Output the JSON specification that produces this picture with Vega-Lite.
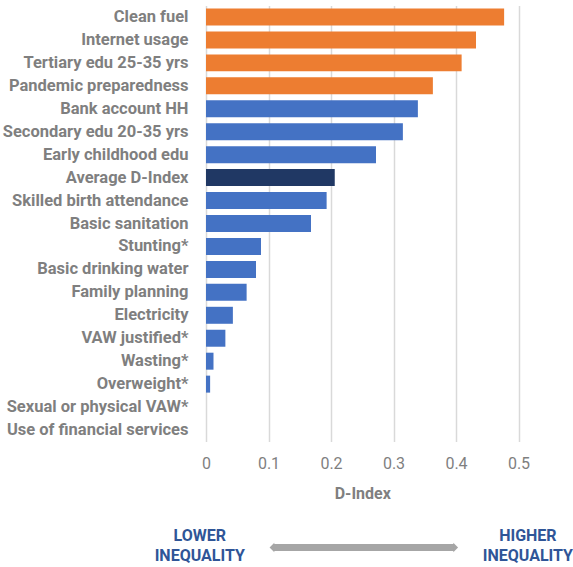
{
  "$schema": "https://vega.github.io/schema/vega-lite/v6.json",
  "autosize": {"type": "none"},
  "width": 312.5,
  "height": 436,
  "padding": {"left": 206, "top": 5.5, "right": 54.5, "bottom": 125.5},
  "background": "white",
  "config": {
    "view": {"stroke": null},
    "font": "Roboto"
  },
  "datasets": {
    "bars": [
      {"indicator": "Clean fuel", "d": 0.477, "group": "high"},
      {"indicator": "Internet usage", "d": 0.432, "group": "high"},
      {"indicator": "Tertiary edu 25-35 yrs", "d": 0.409, "group": "high"},
      {"indicator": "Pandemic preparedness", "d": 0.363, "group": "high"},
      {"indicator": "Bank account HH", "d": 0.339, "group": "other"},
      {"indicator": "Secondary edu 20-35 yrs", "d": 0.315, "group": "other"},
      {"indicator": "Early childhood edu", "d": 0.272, "group": "other"},
      {"indicator": "Average D-Index", "d": 0.206, "group": "average"},
      {"indicator": "Skilled birth attendance", "d": 0.193, "group": "other"},
      {"indicator": "Basic sanitation", "d": 0.168, "group": "other"},
      {"indicator": "Stunting*", "d": 0.088, "group": "other"},
      {"indicator": "Basic drinking water", "d": 0.080, "group": "other"},
      {"indicator": "Family planning", "d": 0.065, "group": "other"},
      {"indicator": "Electricity", "d": 0.043, "group": "other"},
      {"indicator": "VAW justified*", "d": 0.031, "group": "other"},
      {"indicator": "Wasting*", "d": 0.012, "group": "other"},
      {"indicator": "Overweight*", "d": 0.0066, "group": "other"},
      {"indicator": "Sexual or physical VAW*", "d": 0, "group": "other"},
      {"indicator": "Use of financial services", "d": 0, "group": "other"}
    ],
    "labels": [
      {"label": "LOWER\nINEQUALITY", "x": -0.01, "y": -0.2167},
      {"label": "HIGHER\nINEQUALITY", "x": 0.515, "y": -0.2167}
    ],
    "arrow": [
      {"x1": 0.108, "x2": 0.397, "y": -0.243}
    ],
    "heads": [
      {"x": 0.1055, "y": -0.243, "dir": "left"},
      {"x": 0.3995, "y": -0.243, "dir": "right"}
    ]
  },
  "layer": [
    {
      "data": {"name": "bars"},
      "mark": {"type": "bar"},
      "encoding": {
        "y": {
          "field": "indicator",
          "type": "nominal",
          "sort": null,
          "scale": {"paddingInner": 0.26, "paddingOuter": 0.13},
          "axis": {
            "title": null,
            "domain": false,
            "ticks": false,
            "labelPadding": 18,
            "labelFontSize": 16.5,
            "labelFontWeight": "bold",
            "labelColor": "#7f7f7f",
            "labelFont": "Roboto",
            "labelLimit": 260
          }
        },
        "x": {
          "field": "d",
          "type": "quantitative",
          "scale": {"domain": [0, 0.5], "nice": false},
          "axis": {
            "title": "D-Index",
            "values": [0, 0.1, 0.2, 0.3, 0.4, 0.5],
            "format": ".1~f",
            "domain": false,
            "ticks": false,
            "grid": true,
            "gridColor": "#d9d9d9",
            "gridWidth": 1.5,
            "labelFlush": false,
            "labelFontSize": 16,
            "labelColor": "#7f7f7f",
            "labelPadding": 14,
            "labelFont": "Roboto",
            "titleFont": "Roboto",
            "titleFontSize": 16,
            "titleFontWeight": "bold",
            "titleColor": "#7f7f7f",
            "titlePadding": 14
          }
        },
        "color": {
          "field": "group",
          "type": "nominal",
          "scale": {"domain": ["high", "other", "average"], "range": ["#ED7D31", "#4472C4", "#203864"]},
          "legend": null
        }
      }
    },
    {
      "data": {"name": "arrow"},
      "mark": {"type": "rule", "color": "#a6a6a6", "strokeWidth": 7},
      "encoding": {
        "x": {"field": "x1", "type": "quantitative"},
        "x2": {"field": "x2"},
        "y": {"field": "y", "type": "quantitative", "scale": {"domain": [0, 1]}, "axis": null}
      }
    },
    {
      "data": {"name": "heads"},
      "mark": {"type": "point", "filled": true, "color": "#a6a6a6", "opacity": 1, "size": 90},
      "encoding": {
        "x": {"field": "x", "type": "quantitative"},
        "y": {"field": "y", "type": "quantitative", "scale": {"domain": [0, 1]}, "axis": null},
        "shape": {
          "field": "dir",
          "type": "nominal",
          "scale": {"domain": ["left", "right"], "range": ["M -0.5 0 L 0.5 -1 L 0.5 1 Z", "M 0.5 0 L -0.5 -1 L -0.5 1 Z"]},
          "legend": null
        }
      }
    },
    {
      "data": {"name": "labels"},
      "mark": {"type": "text", "lineBreak": "\n", "lineHeight": 20, "align": "center", "baseline": "middle", "font": "Roboto", "fontSize": 16, "fontWeight": "bold", "color": "#2F5597"},
      "encoding": {
        "x": {"field": "x", "type": "quantitative"},
        "y": {"field": "y", "type": "quantitative", "scale": {"domain": [0, 1]}, "axis": null},
        "text": {"field": "label"}
      }
    }
  ],
  "resolve": {"scale": {"y": "independent", "shape": "independent"}}
}
